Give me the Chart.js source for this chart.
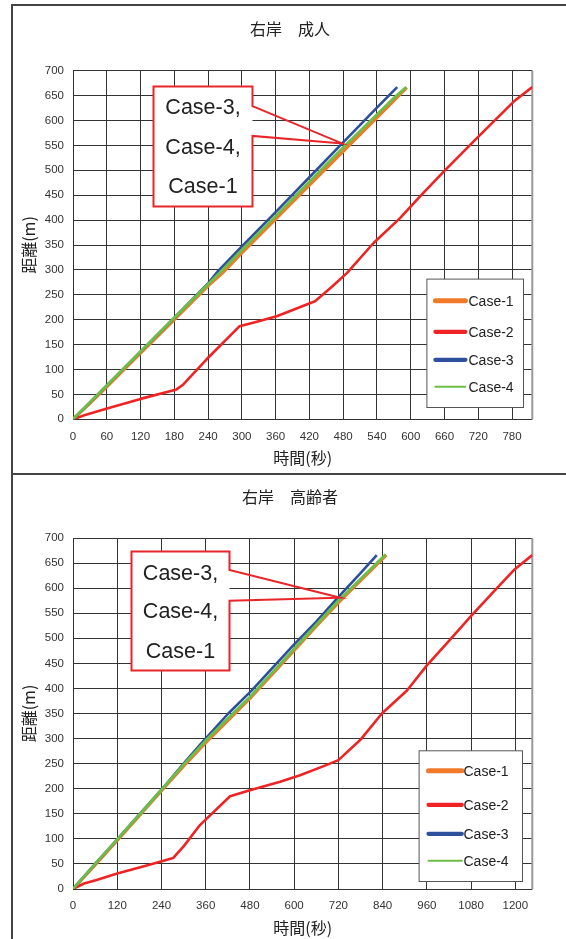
<!DOCTYPE html>
<html>
<head>
<meta charset="utf-8">
<script src="https://cdn.jsdelivr.net/npm/chart.js@4.4.1/dist/chart.umd.min.js"></script>
<style>
  html, body { margin: 0; padding: 0; background: #fff; }
  body { width: 566px; height: 939px; position: relative; overflow: hidden; }
  .panel { position: absolute; left: 11px; border: 2px solid #444; }
  #p1 { top: 4px; width: 600px; height: 467px; }
  #p2 { top: 475px; width: 600px; height: 500px; border-top: none; }
  canvas { position: absolute; left: 0; }
  #c1 { top: 0; }
  #c2 { top: 475px; }
</style>
</head>
<body>
<div class="panel" id="p1"></div>
<div class="panel" id="p2"></div>
<canvas id="c1" width="566" height="473"></canvas>
<canvas id="c2" width="566" height="464"></canvas>
<script>
// ---- data: time (s) vs distance (m) ----
const seriesNames = ['Case-1', 'Case-2', 'Case-3', 'Case-4'];
const yTicks = [0, 50, 100, 150, 200, 250, 300, 350, 400, 450, 500, 550, 600, 650, 700];
const xTicksAdult = [0, 60, 120, 180, 240, 300, 360, 420, 480, 540, 600, 660, 720, 780];
const xTicksElderly = [0, 120, 240, 360, 480, 600, 720, 840, 960, 1080, 1200];

// 右岸 成人
const adultCase1 = [[0,0],[30,32],[60,65],[120,133],[180,200],[240,268],[265,293],[300,334],[360,402],[420,470],[480,538],[540,606],[570,640],[593,666]];
const adultCase2 = [[0,0],[20,8],[59,21],[120,41],[184,60],[196,70],[237,120],[296,187],[320,194],[362,207],[430,237],[460,266],[487,294],[534,354],[581,404],[617,448],[659,498],[718,565],[783,638],[816,667]];
const adultCase3 = [[0,0],[60,68],[120,136],[180,204],[240,273],[258,298],[300,347],[360,416],[420,486],[480,556],[540,626],[576,667]];
const adultCase4 = [[0,0],[30,34],[60,68],[120,136],[180,204],[240,271],[262,296],[300,340],[360,408],[420,477],[480,546],[540,612],[570,645],[592,667]];

// 右岸 高齢者
const elderlyCase1 = [[0,0],[60,48],[120,97],[180,146],[240,196],[300,245],[360,292],[420,336],[480,380],[540,428],[600,476],[660,524],[720,571],[780,615],[850,666]];
const elderlyCase2 = [[0,0],[30,11],[64,18],[120,31],[200,47],[272,62],[300,85],[345,128],[426,185],[480,197],[562,214],[616,227],[680,245],[720,257],[779,297],[838,350],[906,396],[960,446],[1020,495],[1082,546],[1140,592],[1196,636],[1246,666]];
const elderlyCase3 = [[0,0],[60,50],[120,99],[180,149],[240,198],[300,250],[345,288],[420,349],[485,396],[540,440],[600,488],[660,533],[716,579],[780,630],[824,666]];
const elderlyCase4 = [[0,0],[60,50],[120,99],[180,148],[240,198],[300,248],[360,296],[420,340],[480,383],[540,431],[600,479],[660,527],[720,575],[780,618],[848,667]];

const lineColors = ['#F07A2A', '#EE2424', '#2D4F9E', '#6DBE45'];
const lineWidths = [3.2, 2.6, 2.6, 2.8];
const legendWidths = [5, 4.2, 4.2, 2];
const drawOrder = [4, 3, 2, 1];

const FONT_NUM = '"Liberation Sans", Arial, sans-serif';
const FONT_JP = '"Noto Sans CJK JP", "Noto Sans", sans-serif';

// ---- plugins ----
const panelTitle = {
  id: 'panelTitle',
  afterDraw(chart, args, o) {
    const ctx = chart.ctx;
    ctx.save();
    ctx.font = '16px ' + FONT_JP;
    ctx.fillStyle = '#222';
    ctx.textAlign = 'center';
    ctx.textBaseline = 'middle';
    ctx.fillText(o.text, o.x, o.y);
    ctx.restore();
  }
};

const plotEdge = {
  id: 'plotEdge',
  beforeDatasetsDraw(chart) {
    const {ctx, chartArea: a} = chart;
    ctx.save();
    ctx.strokeStyle = '#999';
    ctx.lineWidth = 2;
    ctx.beginPath();
    ctx.moveTo(a.right, a.top);
    ctx.lineTo(a.right, a.bottom);
    ctx.stroke();
    ctx.restore();
  }
};

const callout = {
  id: 'callout',
  afterDatasetsDraw(chart, args, o) {
    const {ctx, scales: {x, y}} = chart;
    const L = Math.round(x.getPixelForValue(o.box[0])) + 0.5;
    const R = Math.round(x.getPixelForValue(o.box[1])) + 0.5;
    const T = Math.round(y.getPixelForValue(o.box[3])) + 0.5;
    const B = Math.round(y.getPixelForValue(o.box[2])) + 0.5;
    const w1 = y.getPixelForValue(o.wedge[1]);
    const w2 = y.getPixelForValue(o.wedge[0]);
    const tx = x.getPixelForValue(o.tip[0]);
    const ty = y.getPixelForValue(o.tip[1]);
    ctx.save();
    ctx.fillStyle = '#fff';
    ctx.fillRect(L, T, R - L, B - T);
    ctx.strokeStyle = '#E8262A';
    ctx.lineWidth = 2;
    ctx.lineJoin = 'miter';
    ctx.beginPath();
    ctx.moveTo(L, T);
    ctx.lineTo(R, T);
    ctx.lineTo(R, w1);
    ctx.lineTo(tx, ty);
    ctx.lineTo(R, w2);
    ctx.lineTo(R, B);
    ctx.lineTo(L, B);
    ctx.closePath();
    ctx.stroke();
    ctx.font = '21.5px ' + FONT_NUM;
    ctx.fillStyle = '#222';
    ctx.textAlign = 'center';
    ctx.textBaseline = 'middle';
    o.lines.forEach((t, i) => ctx.fillText(t, (L + R) / 2, T + o.lineOffsets[i]));
    ctx.restore();
  }
};

const caseLegend = {
  id: 'caseLegend',
  afterDatasetsDraw(chart, args, o) {
    const {ctx, chartArea: a} = chart;
    const R = Math.round(a.right - o.insetRight) + 0.5;
    const B = Math.round(a.bottom - o.insetBottom) + 0.5;
    const L = R - o.width;
    const T = B - o.height;
    ctx.save();
    ctx.fillStyle = '#fff';
    ctx.fillRect(L, T, o.width, o.height);
    ctx.strokeStyle = '#555';
    ctx.lineWidth = 1;
    ctx.strokeRect(L, T, o.width, o.height);
    ctx.font = '14px ' + FONT_NUM;
    ctx.textAlign = 'left';
    ctx.textBaseline = 'middle';
    chart.data.datasets.forEach((ds, i) => {
      const yy = T + o.rows[i];
      ctx.strokeStyle = ds.borderColor;
      ctx.lineWidth = ds.legendWidth;
      ctx.lineCap = 'round';
      ctx.beginPath();
      ctx.moveTo(L + o.sample[0], yy);
      ctx.lineTo(L + o.sample[1], yy);
      ctx.stroke();
      ctx.fillStyle = '#222';
      ctx.fillText(ds.label, L + o.textX, yy + 1);
    });
    ctx.restore();
  }
};

function makeDataset(i, pts) {
  return {
    label: seriesNames[i],
    data: pts.map(p => ({x: p[0], y: p[1]})),
    showLine: true,
    borderColor: lineColors[i],
    backgroundColor: lineColors[i],
    borderWidth: lineWidths[i],
    legendWidth: legendWidths[i],
    pointRadius: 0,
    tension: 0,
    order: drawOrder[i],
    borderJoinStyle: 'round'
  };
}

function buildChart(canvas, c) {
  return new Chart(canvas, {
    type: 'scatter',
    data: { datasets: c.series.map((s, i) => makeDataset(i, s)) },
    options: {
      responsive: false,
      animation: false,
      events: [],
      layout: { padding: { left: 13, right: 33.7, top: c.padTop, bottom: 0 } },
      plugins: {
        legend: { display: false },
        tooltip: { enabled: false },
        title: { display: false },
        panelTitle: { text: c.title, x: 290, y: c.titleY },
        callout: c.callout,
        caseLegend: c.legend
      },
      scales: {
        x: {
          type: 'linear',
          min: 0,
          max: c.xMax,
          afterBuildTicks: s => { s.ticks = c.xTicks.map(v => ({value: v})); },
          afterFit: s => { s.height = c.xAxisHeight; },
          grid: { color: '#333', lineWidth: 1, drawTicks: false },
          border: { display: false },
          ticks: {
            autoSkip: false, maxRotation: 0, padding: c.xTickPad,
            color: '#333', font: { family: FONT_NUM, size: 11.5 },
            callback: v => String(v)
          },
          title: {
            display: true, text: '時間(秒)', color: '#222',
            font: { family: FONT_JP, size: 16 },
            padding: { top: 0, bottom: c.xTitlePad }
          }
        },
        y: {
          type: 'linear',
          min: 0,
          max: 700,
          afterBuildTicks: s => { s.ticks = yTicks.map(v => ({value: v})); },
          afterFit: s => { s.width = 60; },
          grid: { color: '#333', lineWidth: 1, drawTicks: false },
          border: { display: false },
          ticks: {
            padding: 9, color: '#333', font: { family: FONT_NUM, size: 11.5 },
            callback: v => String(v)
          },
          title: {
            display: true, text: '距離(m)', color: '#222',
            font: { family: FONT_JP, size: 16 },
            padding: { top: 6.7, bottom: 0 }
          }
        }
      }
    },
    plugins: [plotEdge, callout, caseLegend, panelTitle]
  });
}

buildChart(document.getElementById('c1'), {
  title: '右岸　成人',
  titleY: 29,
  padTop: 70.7,
  xMax: 816,
  xTicks: xTicksAdult,
  xAxisHeight: 53.7,
  xTickPad: 11.1,
  xTitlePad: 5.4,
  series: [adultCase1, adultCase2, adultCase3, adultCase4],
  callout: {
    box: [142, 318, 429, 669],
    wedge: [569, 629],
    tip: [478, 554],
    lines: ['Case-3,', 'Case-4,', 'Case-1'],
    lineOffsets: [22, 61.5, 101]
  },
  legend: {
    insetRight: 9, insetBottom: 12.6, width: 96.6, height: 128.4,
    rows: [21.7, 52.7, 80.7, 107.7], sample: [8.5, 38.5], textX: 41.6
  }
});

buildChart(document.getElementById('c2'), {
  title: '右岸　高齢者',
  titleY: 22.3,
  padTop: 63,
  xMax: 1246,
  xTicks: xTicksElderly,
  xAxisHeight: 50,
  xTickPad: 10.1,
  xTitlePad: 1.4,
  series: [elderlyCase1, elderlyCase2, elderlyCase3, elderlyCase4],
  callout: {
    box: [157, 424, 437, 675],
    wedge: [575, 636],
    tip: [725, 581],
    lines: ['Case-3,', 'Case-4,', 'Case-1'],
    lineOffsets: [22.3, 61, 101]
  },
  legend: {
    insetRight: 10.6, insetBottom: 8.3, width: 103.4, height: 130.7,
    rows: [20, 54, 83, 110], sample: [9.4, 42.7], textX: 44.4
  }
});
</script>
</body>
</html>
